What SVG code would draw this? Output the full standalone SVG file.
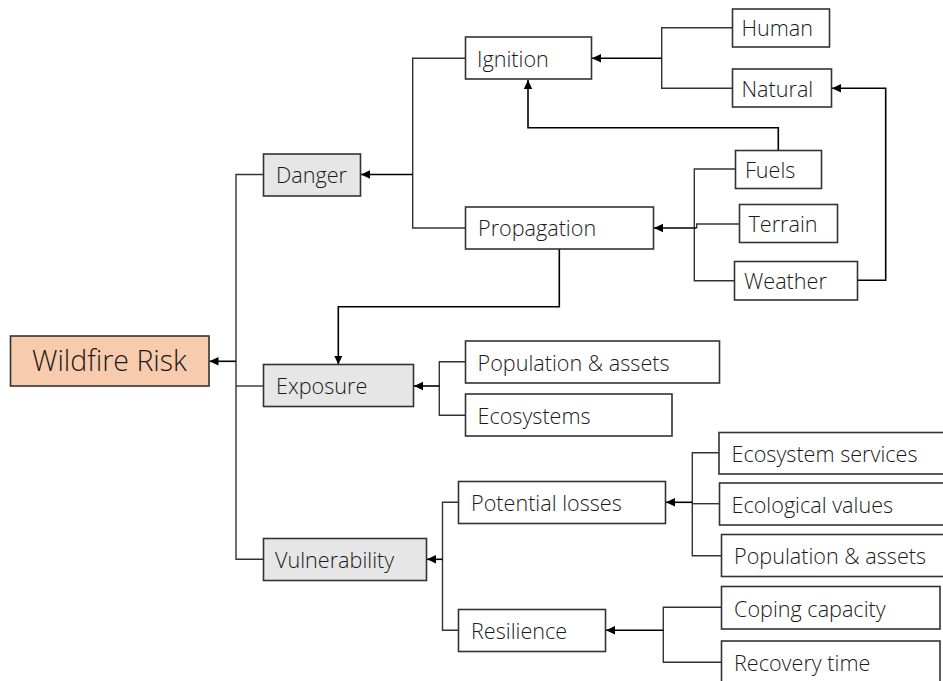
<svg xmlns="http://www.w3.org/2000/svg" width="943" height="681" viewBox="0 0 943 681">
<defs>
<marker id="ah" markerUnits="userSpaceOnUse" markerWidth="10" markerHeight="10" viewBox="0 0 10 10" refX="9" refY="5" orient="auto">
<path d="M0,0.8 L9,5 L0,9.2 Z" fill="#000"/>
</marker>
<style>
rect.w,rect.g,rect.o{stroke:#333;stroke-width:1.6}
.w{fill:#fff}
.g{fill:#e7e6e6}
.o{fill:#f8cbad}
text{font-family:"Open Sans","Noto Sans","Liberation Sans",sans-serif;font-weight:300;font-size:21.6px;fill:#1a1a1a}
.big{font-size:28.5px}
#connectors path{fill:none;stroke:#333;stroke-width:1.4}
#connectors path.a{stroke:#000;stroke-width:1.6;marker-end:url(#ah)}
</style>
</defs>
<rect x="0" y="0" width="943" height="681" fill="#fff"/>
<g id="connectors">
<path d="M732.5,27.7 H661.7 V88.3 H732.5"/>
<path class="a" d="M661.7,58.3 H592"/>
<path d="M465.5,58.3 H412.7 V228 H465.5"/>
<path class="a" d="M412.7,174.5 H361"/>
<path class="a" d="M778.3,150.5 V127.7 H528 V80"/>
<path class="a" d="M857.3,280.3 H885.7 V88.3 H832"/>
<path d="M735.5,169 H694.3 V280.7 H734.7"/>
<path d="M739.5,224 H696.7 V228"/>
<path class="a" d="M696.7,228 H654"/>
<path class="a" d="M559.3,249 V306.7 H338.3 V364.5"/>
<path d="M263.5,174.5 H236 V559.3 H263.5"/>
<path d="M236,386 H263.5"/>
<path class="a" d="M236,361.3 H209.5"/>
<path d="M465.5,361.7 H439.3 V415.3 H465.5"/>
<path class="a" d="M439.3,386 H414"/>
<path d="M458.5,502.3 H442.5 V630.3 H458.5"/>
<path class="a" d="M442.5,559.3 H427"/>
<path d="M719,452.7 H692.3 V555.7 H721.5"/>
<path d="M692.3,503.7 H719.5"/>
<path class="a" d="M692.3,502.3 H666"/>
<path d="M721.5,607.3 H663.3 V662.3 H721.5"/>
<path class="a" d="M663.3,630.3 H606"/>
</g>
<g id="wildfire"><rect class="o" x="10.5" y="336" width="198.5" height="50"/><text class="big" x="32" y="371">Wildfire Risk</text></g>
<g id="danger"><rect class="g" x="263.5" y="154" width="97" height="42"/><text x="276" y="183">Danger</text></g>
<g id="exposure"><rect class="g" x="263.5" y="364.5" width="150" height="42"/><text x="276" y="394">Exposure</text></g>
<g id="vulnerability"><rect class="g" x="263.5" y="538.5" width="163" height="42"/><text x="275" y="567.5">Vulnerability</text></g>
<g id="ignition"><rect class="w" x="465.5" y="37" width="126" height="42"/><text x="477" y="67">Ignition</text></g>
<g id="propagation"><rect class="w" x="465.5" y="207" width="188" height="42"/><text x="478" y="236">Propagation</text></g>
<g id="human"><rect class="w" x="732.5" y="9" width="97" height="38"/><text x="741.5" y="36">Human</text></g>
<g id="natural"><rect class="w" x="732.5" y="69" width="99" height="38"/><text x="741.5" y="96.5">Natural</text></g>
<g id="fuels"><rect class="w" x="735.5" y="150.5" width="86" height="38"/><text x="745" y="177.5">Fuels</text></g>
<g id="terrain"><rect class="w" x="739.5" y="204.5" width="98" height="38"/><text x="748.5" y="232">Terrain</text></g>
<g id="weather"><rect class="w" x="734.5" y="261.5" width="123" height="38.5"/><text x="744" y="288.5">Weather</text></g>
<g id="pop-exposure"><rect class="w" x="465.5" y="341" width="254" height="42"/><text x="477.5" y="370.5">Population &amp; assets</text></g>
<g id="ecosystems"><rect class="w" x="465.5" y="394" width="206.5" height="42"/><text x="477.5" y="424">Ecosystems</text></g>
<g id="potential-losses"><rect class="w" x="458.5" y="481.5" width="207" height="42"/><text x="471" y="511">Potential losses</text></g>
<g id="resilience"><rect class="w" x="458.5" y="609.5" width="147" height="42"/><text x="471" y="639">Resilience</text></g>
<g id="ecosystem-services"><rect class="w" x="719" y="432.5" width="240" height="41.5"/><text x="731.5" y="462">Ecosystem services</text></g>
<g id="ecological-values"><rect class="w" x="719.5" y="483" width="240" height="42"/><text x="731.5" y="512.5">Ecological values</text></g>
<g id="pop-vulnerability"><rect class="w" x="721.5" y="534.5" width="240" height="42"/><text x="734" y="564">Population &amp; assets</text></g>
<g id="coping"><rect class="w" x="721.5" y="586.5" width="218.5" height="42.5"/><text x="734" y="616.5">Coping capacity</text></g>
<g id="recovery"><rect class="w" x="721.5" y="641" width="218.5" height="50"/><text x="734" y="670.5">Recovery time</text></g>
</svg>
